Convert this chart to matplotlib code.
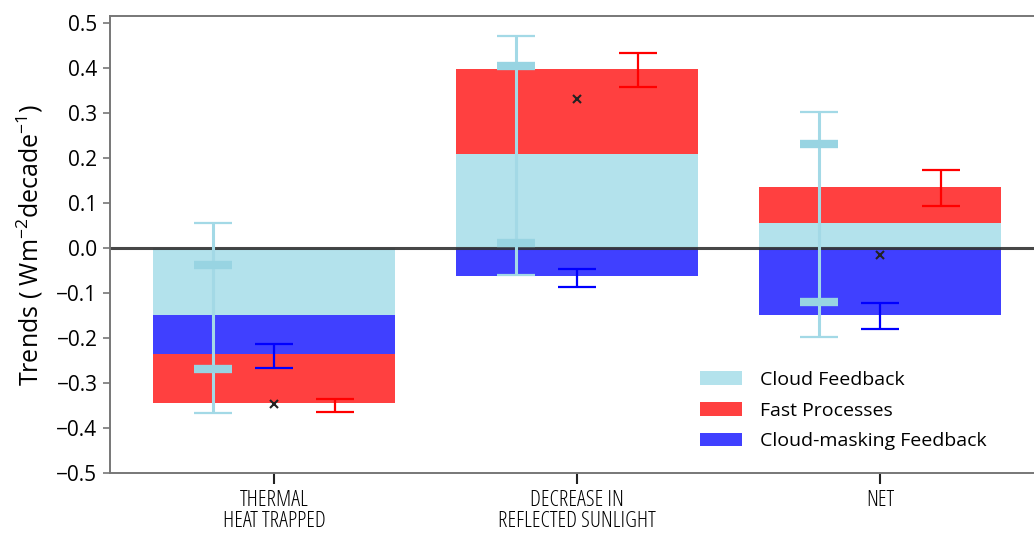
import numpy as np
import matplotlib
matplotlib.use('Agg')
import matplotlib.pyplot as plt
from matplotlib.patches import Patch

plt.rcParams['font.family'] = ['Open Sans', 'DejaVu Sans']
plt.rcParams['mathtext.default'] = 'regular'

# Data
categories = ['THERMAL\nHEAT TRAPPED', 'DECREASE IN\nREFLECTED SUNLIGHT', 'NET']
cloud = [-0.150, 0.208, 0.056]
masking = [-0.085, -0.062, -0.149]
fast = [-0.110, 0.190, 0.080]

cloud_err_center = [-0.155, 0.205, 0.052]
cloud_err_outer = [0.211, 0.265, 0.249]
cloud_inner_center = [-0.153, 0.207, 0.055]
cloud_err_inner = [0.116, 0.196, 0.175]
masking_err_center = [-0.240, -0.067, -0.151]
masking_err = [0.026, 0.020, 0.029]
fast_err_center = [-0.350, 0.395, 0.133]
fast_err = [0.0135, 0.037, 0.039]
net_total = [-0.347, 0.330, -0.016]

yticks = [-0.5, -0.4, -0.3, -0.2, -0.1, 0.0, 0.1, 0.2, 0.3, 0.4, 0.5]

C_CLOUD = '#b3e2ec'
C_FAST = '#ff4040'
C_MASK = '#4040ff'

fig = plt.figure(figsize=(10.34, 5.33), dpi=100)
ax = fig.add_axes([110 / 1034, 60 / 533, 930 / 1034, 457 / 533])

x = np.arange(len(categories))
width = 0.8

# stack positives and negatives separately: cloud -> masking -> fast
pos_base = np.zeros(len(x))
neg_base = np.zeros(len(x))
for vals, col in [(cloud, C_CLOUD), (masking, C_MASK), (fast, C_FAST)]:
    vals = np.array(vals)
    base = np.where(vals >= 0, pos_base, neg_base)
    ax.bar(x, vals, width, bottom=base, color=col, edgecolor='none', zorder=1)
    pos_base = pos_base + np.where(vals >= 0, vals, 0)
    neg_base = neg_base + np.where(vals < 0, vals, 0)

ax.axhline(0, color='#333333', lw=2.2, alpha=0.9, zorder=2)

# error bars
ax.errorbar(x - 0.2, cloud_err_center, yerr=cloud_err_outer, fmt='none',
            ecolor='#a3d9e6', elinewidth=2.2, capsize=14, capthick=1.6, zorder=3)
ax.errorbar(x - 0.2, cloud_inner_center, yerr=cloud_err_inner, fmt='none',
            ecolor='#98d4e2', elinewidth=0, capsize=14, capthick=6, zorder=3)
ax.errorbar(x, masking_err_center, yerr=masking_err, fmt='none',
            ecolor='#0000ff', elinewidth=1.6, capsize=14, capthick=1.6, zorder=3)
ax.errorbar(x + 0.2, fast_err_center, yerr=fast_err, fmt='none',
            ecolor='#ff0000', elinewidth=1.6, capsize=14, capthick=1.6, zorder=3)
ax.plot(x, net_total, 'x', color='#222222', ms=6, mew=1.5, zorder=4)

ax.set_xlim(-0.541, 2.528)
ax.set_ylim(-0.5, 0.515)
ax.set_yticks(yticks)
ax.set_yticklabels([f'{v:.1f}'.replace('-', '\u2212') for v in yticks])
ax.set_xticks(x)
ax.set_xticklabels(categories, fontsize=16, fontstretch='condensed',
                   linespacing=1.0)
ax.tick_params(axis='y', labelsize=15, length=5, width=1.2, color='#777777', pad=4)
ax.tick_params(axis='x', length=8, width=1.5, color='#222222', pad=4)
ax.set_ylabel('Trends ( Wm$^{-2}$decade$^{-1}$)', fontsize=18, labelpad=8)

for s in ['left', 'bottom', 'top']:
    ax.spines[s].set_color('#777777')
    ax.spines[s].set_linewidth(1.4)
ax.spines['right'].set_visible(False)

handles = [Patch(facecolor=C_CLOUD, edgecolor='none', label='Cloud Feedback'),
           Patch(facecolor=C_FAST, edgecolor='none', label='Fast Processes'),
           Patch(facecolor=C_MASK, edgecolor='none', label='Cloud-masking Feedback')]
ax.legend(handles=handles, loc='lower left', bbox_to_anchor=(0.634, 0.05),
          frameon=False, fontsize=14, handlelength=2.2, handleheight=0.7,
          handletextpad=0.9, labelspacing=0.65, borderpad=0, borderaxespad=0)

fig.savefig('out.png', dpi=100, facecolor='white')
